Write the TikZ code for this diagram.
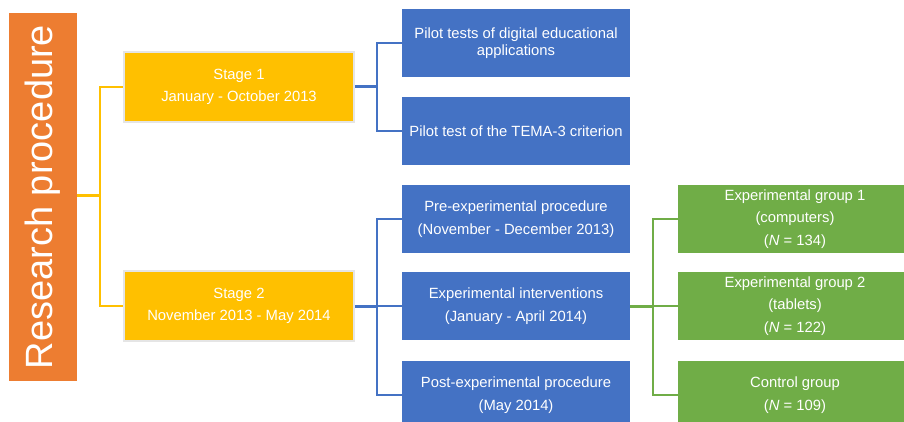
\documentclass[tikz,border=0pt]{standalone}
\usepackage{fontspec}
\setmainfont{Liberation Sans}
\definecolor{procorange}{HTML}{ED7D31}
\definecolor{stagegold}{HTML}{FFC000}
\definecolor{stepblue}{HTML}{4472C4}
\definecolor{groupgreen}{HTML}{70AD47}
\begin{document}
\begin{tikzpicture}[x=1pt,y=-1pt,
  box/.style={rectangle, inner sep=0pt, text=white, align=center,
    font=\fontsize{14.8}{22.5}\selectfont},
  titlebox/.style={box, fill=procorange, minimum width=68pt, minimum height=368pt},
  stagebox/.style={box, fill=stagegold, draw=black!10, line width=1.5pt,
    minimum width=230pt, minimum height=70pt},
  stepbox/.style={box, fill=stepblue, minimum width=228pt, minimum height=68pt},
  groupbox/.style={box, fill=groupgreen, minimum width=226pt, minimum height=68pt},
  trunk/.style={line width=3pt},
  branch/.style={line width=1.6pt},
]
\useasboundingbox (0,0) rectangle (904,422);
\begin{scope}
\clip (0,0) rectangle (904,422);

% title column
\node[titlebox] (rp) at (43,197)
  {\rotatebox{90}{\fontsize{38}{40}\selectfont Research procedure}};

% stages
\node[stagebox] (s1) at (239,87) {Stage 1\\January - October 2013};
\node[stagebox] (s2) at (239,306) {Stage 2\\November 2013 - May 2014};

% steps of each stage
\node[stepbox, font=\fontsize{14.8}{17}\selectfont] (p1) at (516,43)
  {Pilot tests of digital educational\\applications};
\node[stepbox] (p2) at (516,131) {Pilot test of the TEMA-3 criterion};
\node[stepbox] (e1) at (516,219) {Pre-experimental procedure\\(November - December 2013)};
\node[stepbox] (e2) at (516,306) {Experimental interventions\\(January - April 2014)};
\node[stepbox] (e3) at (516,395) {Post-experimental procedure\\(May 2014)};

% groups
\node[groupbox] (g1) at (791,219)
  {\hspace*{8pt}Experimental group 1\\\hspace*{8pt}(computers)\\\hspace*{8pt}(\textit{N} = 134)};
\node[groupbox] (g2) at (791,306)
  {\hspace*{8pt}Experimental group 2\\\hspace*{8pt}(tablets)\\\hspace*{8pt}(\textit{N} = 122)};
\node[groupbox] (g3) at (791,395)
  {\hspace*{8pt}Control group\\\hspace*{8pt}(\textit{N} = 109)};
\end{scope}

% junction points
\coordinate (rj) at (100,195);
\coordinate (aj) at (377,87);
\coordinate (bj) at (377,306);
\coordinate (cj) at (653,306);

% title to stages
\draw[stagegold, trunk] (rp.east |- rj) -- (rj);
\draw[stagegold, branch] (rj) |- (s1.west);
\draw[stagegold, branch] (rj) |- (s2.west);

% stage 1 to its steps
\draw[stepblue, trunk] (s1.east) -- (aj);
\draw[stepblue, branch] (aj) |- (p1.west);
\draw[stepblue, branch] (aj) |- (p2.west);

% stage 2 to its steps
\draw[stepblue, trunk] (s2.east) -- (bj);
\draw[stepblue, branch] (bj) |- (e1.west);
\draw[stepblue, branch] (bj) -- (e2.west);
\draw[stepblue, branch] (bj) |- (e3.west);

% interventions to groups
\draw[groupgreen, trunk] (e2.east) -- (cj);
\draw[groupgreen, branch] (cj) |- (g1.west);
\draw[groupgreen, branch] (cj) -- (g2.west);
\draw[groupgreen, branch] (cj) |- (g3.west);
\end{tikzpicture}
\end{document}
